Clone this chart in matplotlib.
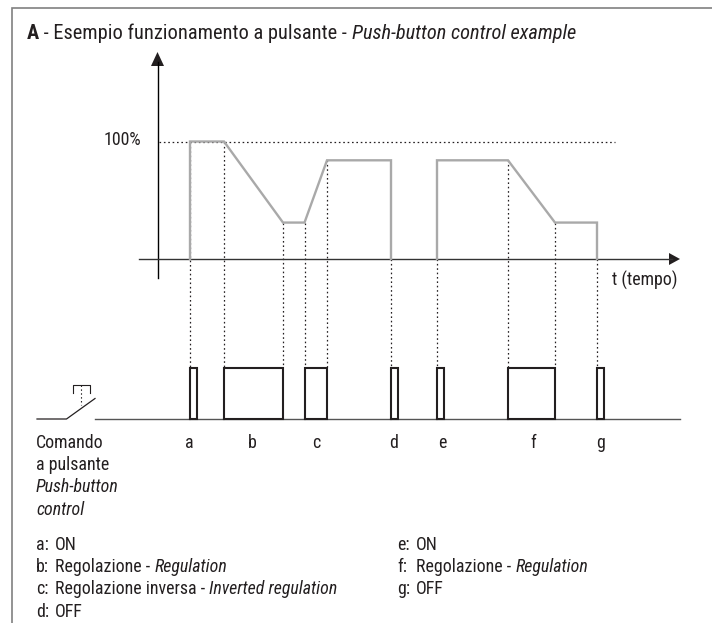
import matplotlib
matplotlib.use('Agg')
import matplotlib.pyplot as plt
from matplotlib import font_manager as fm

names = {f.name for f in fm.fontManager.ttflist}
font = 'Liberation Sans'
for cand in ['Roboto Condensed', 'Archivo Narrow', 'Liberation Sans Narrow', 'Roboto']:
    if cand in names:
        font = cand
        break
plt.rcParams['font.family'] = [font, 'DejaVu Sans']

# output curve, time in picture units, level in percent
curve_t = [190, 190, 224, 283, 304.5, 327, 391, 391]
curve_level = [0, 100, 100, 31, 31, 84, 84, 0]
curve2_t = [437, 437, 508, 555, 597, 597]
curve2_level = [0, 84, 84, 31, 31, 0]

# button presses, start and end time
press_start = [190, 224, 304.5, 391, 437, 508, 597]
press_end = [196.5, 283, 327, 397.5, 443.5, 555, 603.5]
press_names = ['a', 'b', 'c', 'd', 'e', 'f', 'g']
press_label_x = [189, 252, 316, 394, 442, 533, 601]

# where the dotted lines start
guide_t = [190, 224, 283, 304.5, 327, 391, 437, 508, 555, 597]
guide_level = [100, 100, 31, 31, 84, 0, 0, 84, 31, 0]

button_label = [('Comando', False), ('a pulsante', False), ('Push-button', True), ('control', True)]
legend_left = [('a:', 'ON', ''), ('b:', 'Regolazione - ', 'Regulation'),
               ('c:', 'Regolazione inversa - ', 'Inverted regulation'), ('d:', 'OFF', '')]
legend_right = [('e:', 'ON', ''), ('f:', 'Regolazione - ', 'Regulation'), ('g:', 'OFF', '')]

ink = '#231f20'
fs = 12.9
dots = (0, (1.3, 2.2))


def level_y(v):
    return 259 - v * 1.175


fig = plt.figure(figsize=(7.12, 6.23), dpi=100)
ax = fig.add_axes([0, 0, 1, 1])
ax.set_xlim(0, 712)
ax.set_ylim(623, 0)
ax.axis('off')


def runs(x, y, parts, size=fs):
    # writes text pieces one after the other on the same baseline
    r = fig.canvas.get_renderer()
    for s, style, weight in parts:
        if not s:
            continue
        t = ax.text(x, y, s, fontsize=size, color=ink, style=style, weight=weight, va='baseline', ha='left')
        x = t.get_window_extent(r).x1
    return x


# frame
ax.plot([11.5, 11.5, 712], [623, 8, 8], color='#808080', lw=1.2, solid_joinstyle='miter')

runs(27, 39, [('A', 'normal', 'bold'), (' - Esempio funzionamento a pulsante - ', 'normal', 'normal'),
              ('Push-button control example', 'italic', 'normal')], size=14.7)

# axes with arrows
ax.plot([157.5, 157.5], [278, 62], color='black', lw=1.0)
ax.fill([157.5, 151, 164], [52, 66, 66], color=ink, lw=0)
ax.plot([139, 672], [259, 259], color='#333333', lw=1.0)
ax.fill([680, 669, 669], [259, 253, 265], color=ink, lw=0)
ax.plot([159, 615], [141.5, 141.5], color=ink, lw=0.9, ls=dots)

for t, v in zip(guide_t, guide_level):
    ax.plot([t, t], [level_y(v), 367], color=ink, lw=0.9, ls=dots, zorder=1)

ax.plot(curve_t, [level_y(v) for v in curve_level], color='#a9a9a9', lw=1.7, zorder=3, solid_joinstyle='miter')
ax.plot(curve2_t, [level_y(v) for v in curve2_level], color='#a9a9a9', lw=1.7, zorder=3, solid_joinstyle='miter')

ax.text(141, 145, '100%', fontsize=fs, color=ink, ha='right', va='baseline')
ax.text(677, 286, 't (tempo)', fontsize=fs, color=ink, ha='right', va='baseline')

# push button symbol
ax.plot([37, 66.5, 95], [419, 419, 398.5], color=ink, lw=0.9)
ax.plot([72.5, 72.5, 89.5, 89.5], [393, 384.5, 384.5, 393], color=ink, lw=0.8)
ax.plot([81, 81], [385, 405], color=ink, lw=0.8, ls=dots)
ax.plot([95, 680], [419, 419], color='#555555', lw=1.0)

for s, e in zip(press_start, press_end):
    ax.plot([s, s, e, e, s], [419, 367.5, 367.5, 419, 419], color=ink, lw=1.5, zorder=4,
            solid_joinstyle='miter')
for x, n in zip(press_label_x, press_names):
    ax.text(x, 448, n, fontsize=fs, color=ink, ha='center', va='baseline')

for i, (s, ital) in enumerate(button_label):
    ax.text(36, 448 + i * 22.2, s, fontsize=fs, color=ink, style='italic' if ital else 'normal', va='baseline')

for i, (k, a, b) in enumerate(legend_left):
    y = 550 + i * 22.2
    ax.text(36, y, k, fontsize=fs, color=ink, va='baseline')
    runs(55, y, [(a, 'normal', 'normal'), (b, 'italic', 'normal')])
for i, (k, a, b) in enumerate(legend_right):
    y = 550 + i * 22.2
    ax.text(397, y, k, fontsize=fs, color=ink, va='baseline')
    runs(416, y, [(a, 'normal', 'normal'), (b, 'italic', 'normal')])

fig.savefig('out.png', dpi=100)
